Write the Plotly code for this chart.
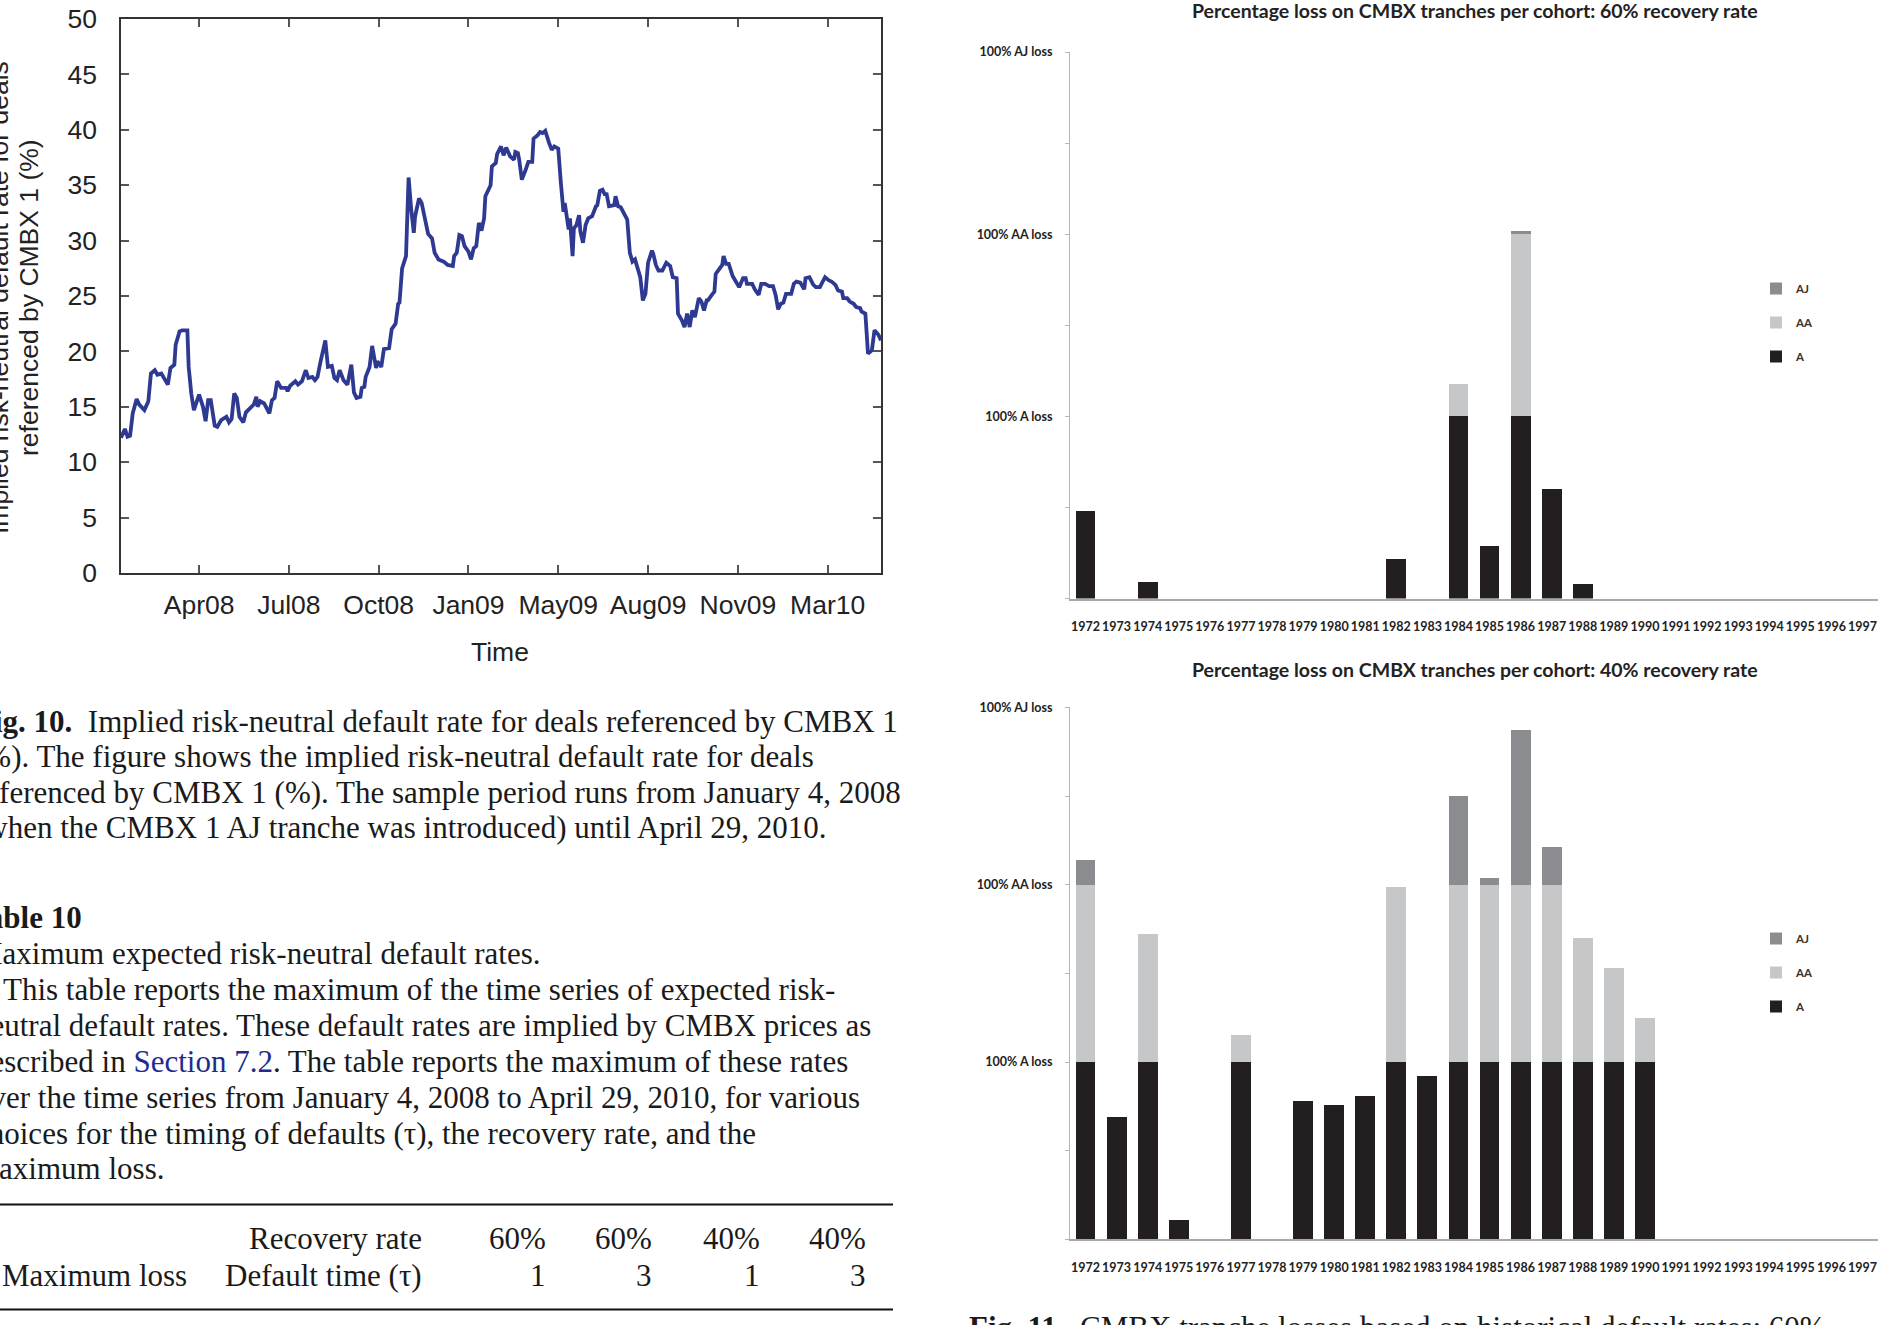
import plotly.graph_objects as go

W, H = 1896, 1325

# Fig. 10 - implied risk-neutral default rate for CMBX 1, by trading day (0 = Jan 4, 2008)
trade_day = [
    0, 3, 5, 7, 9, 12, 14, 18, 21, 23, 26, 28, 31, 36, 38, 41, 42, 45, 47, 51,
    52, 54, 56, 58, 60, 63, 65, 67, 69, 72, 74, 77, 81, 83, 85, 87, 89, 91, 94, 96,
    100, 102, 104, 105, 107, 110, 114, 116, 118, 120, 123, 127, 128, 130, 134, 136, 139, 142, 144, 147,
    149, 151, 153, 157, 159, 162, 164, 166, 168, 171, 174, 177, 179, 181, 184, 185, 187, 188, 191, 193,
    196, 197, 200, 202, 206, 208, 211, 213, 214, 216, 219, 221, 223, 225, 226, 229, 231, 234, 236, 239,
    241, 244, 248, 251, 255, 256, 258, 260, 262, 264, 267, 269, 271, 273, 275, 277, 279, 280, 283, 284,
    285, 288, 289, 292, 294, 296, 299, 302, 303, 305, 306, 308, 311, 313, 316, 317, 320, 322, 324, 326,
    329, 331, 333, 336, 338, 340, 341, 342, 344, 345, 347, 348, 350, 352, 353, 355, 357, 359, 362, 365,
    366, 368, 370, 372, 373, 375, 379, 380, 382, 384, 387, 389, 391, 393, 395, 397, 399, 401, 403, 405,
    408, 409, 411, 413, 416, 419, 422, 424, 427, 428, 431, 433, 435, 437, 439, 441, 444, 446, 448, 450,
    451, 454, 456, 457, 460, 462, 463, 465, 467, 468, 470, 472, 475, 478, 480, 481, 485, 487, 490, 492,
    495, 498, 501, 503, 505, 507, 509, 511, 515, 517, 519, 522, 525, 526, 529, 532, 534, 537, 539, 541,
    544, 546, 549, 551, 554, 555, 558, 560, 563, 565, 568, 569, 572, 573, 574, 577, 579, 582, 584,
]
default_rate = [
    12.2, 13.0, 12.3, 12.4, 14.4, 15.7, 15.2, 14.7, 15.5, 18.0, 18.3, 17.9, 18.0, 17.0, 18.5, 18.8, 20.6, 21.8, 21.9, 21.9,
    18.6, 16.2, 14.7, 15.3, 16.1, 15.0, 13.7, 15.6, 15.6, 13.3, 13.2, 13.8, 14.1, 13.6, 13.9, 16.2, 15.8, 14.1, 13.6, 14.5,
    14.9, 15.2, 15.9, 15.0, 15.5, 15.3, 14.4, 15.6, 15.8, 17.3, 16.7, 16.7, 16.4, 16.9, 17.3, 17.0, 17.3, 18.3, 17.6, 17.7,
    17.4, 17.7, 18.9, 21.0, 18.6, 18.7, 17.6, 17.4, 18.3, 17.4, 17.0, 18.8, 16.3, 15.8, 15.9, 16.7, 16.8, 17.7, 18.6, 20.5,
    18.5, 19.1, 18.6, 20.2, 20.3, 22.0, 22.5, 24.3, 24.4, 27.5, 28.6, 35.7, 32.8, 30.7, 32.2, 33.8, 33.4, 31.6, 30.6, 30.2,
    28.9, 28.3, 28.1, 27.8, 27.7, 28.6, 28.9, 30.5, 30.4, 29.5, 29.0, 28.3, 29.3, 29.5, 31.6, 30.9, 32.0, 34.0, 34.9, 35.0,
    36.7, 37.0, 37.8, 38.5, 37.7, 38.4, 37.6, 37.3, 38.0, 37.9, 37.3, 35.5, 36.4, 37.1, 37.1, 39.2, 39.5, 39.8, 39.7, 39.9,
    38.8, 38.2, 38.5, 38.3, 35.2, 32.6, 33.4, 32.5, 31.0, 32.0, 28.6, 31.1, 31.4, 32.3, 30.8, 29.8, 31.4, 32.0, 32.2, 33.1,
    33.2, 34.5, 34.6, 34.1, 34.3, 33.1, 33.2, 34.0, 33.1, 33.0, 32.3, 31.9, 28.9, 28.1, 28.3, 27.5, 26.7, 24.6, 25.2, 28.0,
    29.1, 28.8, 27.8, 27.3, 27.3, 28.0, 27.7, 26.7, 26.6, 23.4, 22.8, 22.2, 23.4, 22.2, 23.7, 23.1, 24.8, 24.5, 23.7, 24.6,
    24.6, 25.1, 25.4, 27.0, 27.5, 27.8, 28.6, 27.9, 27.9, 27.5, 26.8, 26.4, 25.8, 26.6, 26.6, 26.1, 26.1, 25.6, 25.1, 26.1,
    26.1, 25.9, 25.9, 25.1, 23.8, 24.3, 24.4, 25.2, 25.2, 26.1, 26.3, 26.2, 25.6, 26.6, 26.7, 26.0, 25.8, 25.8, 26.3, 26.7,
    26.4, 26.3, 26.0, 25.5, 25.4, 24.8, 24.8, 24.5, 24.3, 24.0, 23.9, 23.6, 23.4, 21.6, 19.8, 20.1, 21.9, 21.5, 21.0,
]
tick_days = [60, 129, 198, 267, 336, 405, 474, 543]
tick_months = ["Apr08", "Jul08", "Oct08", "Jan09", "May09", "Aug09", "Nov09", "Mar10"]

# Fig. 11 - tranche losses per cohort (1 = 100% A loss, 2 = 100% AA loss, 3 = 100% AJ loss)
cohorts = ["1972", "1973", "1974", "1975", "1976", "1977", "1978", "1979", "1980", "1981",
           "1982", "1983", "1984", "1985", "1986", "1987", "1988", "1989", "1990", "1991",
           "1992", "1993", "1994", "1995", "1996", "1997"]
loss60_A = [0.48, 0, 0.09, 0, 0, 0, 0, 0, 0, 0, 0.22, 0, 1.0, 0.29, 1.0, 0.60, 0.08, 0, 0, 0, 0, 0, 0, 0, 0, 0]
loss60_AA = [0, 0, 0, 0, 0, 0, 0, 0, 0, 0, 0, 0, 0.18, 0, 1.0, 0, 0, 0, 0, 0, 0, 0, 0, 0, 0, 0]
loss60_AJ = [0, 0, 0, 0, 0, 0, 0, 0, 0, 0, 0, 0, 0, 0, 0.02, 0, 0, 0, 0, 0, 0, 0, 0, 0, 0, 0]
loss40_A = [1.0, 0.69, 1.0, 0.11, 0, 1.0, 0, 0.78, 0.76, 0.81, 1.0, 0.92, 1.0, 1.0, 1.0, 1.0, 1.0, 1.0, 1.0, 0, 0, 0, 0, 0, 0, 0]
loss40_AA = [1.0, 0, 0.72, 0, 0, 0.15, 0, 0, 0, 0, 0.99, 0, 1.0, 1.0, 1.0, 1.0, 0.70, 0.53, 0.25, 0, 0, 0, 0, 0, 0, 0]
loss40_AJ = [0.14, 0, 0, 0, 0, 0, 0, 0, 0, 0, 0, 0, 0.50, 0.04, 0.87, 0.21, 0, 0, 0, 0, 0, 0, 0, 0, 0, 0]
loss_levels = [0, 0.5, 1, 1.5, 2, 2.5, 3]
loss_labels = ["", "", "100% A loss", "", "100% AA loss", "", "100% AJ loss"]

tranche_colors = {"A": "#231f20", "AA": "#c6c7c9", "AJ": "#8b8c90"}
legend_rank = {"AJ": 1, "AA": 2, "A": 3}

SANS = "Liberation Sans, Arial, sans-serif"
CAL = "Lato, sans-serif"
SERIF = "Liberation Serif, Times New Roman, serif"


def px_x(x):
    return x / W


def px_y(y):
    return 1 - y / H


fig = go.Figure()

fig.add_trace(go.Scatter(x=trade_day, y=default_rate, mode="lines",
                         line=dict(color="#2e3a92", width=3.8), showlegend=False,
                         xaxis="x", yaxis="y"))

panels = [
    ("x2", "y2", "legend", loss60_A, loss60_AA, loss60_AJ, "p60"),
    ("x3", "y3", "legend2", loss40_A, loss40_AA, loss40_AJ, "p40"),
]
for xa, ya, leg, a, aa, aj, key in panels:
    for name, vals in [("A", a), ("AA", aa), ("AJ", aj)]:
        fig.add_trace(go.Bar(x=cohorts, y=vals, name=name, marker_color=tranche_colors[name],
                             marker_line_width=0, xaxis=xa, yaxis=ya, legend=leg,
                             legendgroup=key + name, legendrank=legend_rank[name]))

line_axis = dict(showline=True, linecolor="#333333", linewidth=1.5, mirror="ticks",
                 ticks="inside", ticklen=8, tickcolor="#555555", tickwidth=1.5, automargin=False,
                 ticklabeloverflow="allow", showgrid=False, zeroline=False,
                 tickfont=dict(family=SANS, size=26.5, color="#222222"))

bar_x = dict(type="category", range=[-0.5, 25.5], showline=True, linecolor="#a8a8a8", linewidth=1.5,
             ticks="", showgrid=False, zeroline=False, ticklabelstandoff=16, automargin=False,
             tickfont=dict(family=CAL, size=12.5, color="#222222", weight="bold"))
bar_y = dict(range=[0, 3], tickvals=loss_levels, ticktext=loss_labels, showline=True,
             linecolor="#b5b5b5", linewidth=1, ticks="outside", ticklen=4, tickcolor="#b5b5b5",
             showgrid=False, zeroline=False, ticklabelstandoff=10, automargin=False,
             tickfont=dict(family=CAL, size=12.5, color="#222222", weight="bold"))

legend_style = dict(font=dict(family=CAL, size=11.5, color="#333333", weight="bold"),
                    traceorder="grouped", tracegroupgap=15, bgcolor="rgba(0,0,0,0)",
                    xanchor="left", yanchor="top", itemclick=False)

fig.update_layout(
    width=W, height=H, margin=dict(l=0, r=0, t=0, b=0, autoexpand=False),
    paper_bgcolor="white", plot_bgcolor="white",
    barmode="stack", bargap=0.36,
    xaxis=dict(line_axis, domain=[px_x(121), px_x(881)], anchor="y", range=[0, 584],
               tickvals=tick_days, ticktext=tick_months, ticklabelstandoff=7),
    yaxis=dict(line_axis, domain=[px_y(573), px_y(19)], anchor="x", range=[0, 50], dtick=5,
               ticklabelstandoff=17),
    xaxis2=dict(bar_x, domain=[px_x(1070), px_x(1878)], anchor="y2"),
    yaxis2=dict(bar_y, domain=[px_y(598.6), px_y(52)], anchor="x2"),
    xaxis3=dict(bar_x, domain=[px_x(1070), px_x(1878)], anchor="y3"),
    yaxis3=dict(bar_y, domain=[px_y(1239.4), px_y(707.4)], anchor="x3"),
    legend=dict(legend_style, x=px_x(1756), y=px_y(274)),
    legend2=dict(legend_style, x=px_x(1756), y=px_y(924)),
)

annotations = []


def note(text, x, y, size, family, xanchor="left", color="#1a1a1a", angle=0, weight="normal"):
    annotations.append(dict(text=text, x=px_x(x), y=px_y(y), xref="paper", yref="paper",
                            showarrow=False, xanchor=xanchor, yanchor="middle", textangle=angle,
                            font=dict(family=family, size=size, color=color, weight=weight)))


# axis titles of Fig. 10
note("Implied risk-neutral default rate for deals", -1, 298, 26.5, SANS, "center", "#222222", -90)
note("referenced by CMBX 1 (%)", 29, 298, 26.5, SANS, "center", "#222222", -90)
note("Time", 500, 652, 26.5, SANS, "center", "#222222")

# bar chart titles
note("Percentage loss on CMBX tranches per cohort: 60% recovery rate", 1475, 11, 19.5, CAL,
     "center", "#222222", weight="bold")
note("Percentage loss on CMBX tranches per cohort: 40% recovery rate", 1475, 669, 19.5, CAL,
     "center", "#222222", weight="bold")

# caption and table text (left column is cut at the page edge)
col_left = -27
text_lines = [
    ("<b>Fig. 10.</b>  Implied risk-neutral default rate for deals referenced by CMBX 1", col_left, 721),
    ("(%). The figure shows the implied risk-neutral default rate for deals", col_left, 756),
    ("referenced by CMBX 1 (%). The sample period runs from January 4, 2008", col_left, 792),
    ("(when the CMBX 1 AJ tranche was introduced) until April 29, 2010.", col_left, 827),
    ("<b>Table 10</b>", col_left - 5, 917),
    ("Maximum expected risk-neutral default rates.", col_left, 953),
    ("This table reports the maximum of the time series of expected risk-", 1, 989),
    ("neutral default rates. These default rates are implied by CMBX prices as", col_left, 1025),
    ("described in <span style='color:#1f2b8f'>Section 7.2</span>. The table reports the maximum of these rates",
     col_left, 1061),
    ("over the time series from January 4, 2008 to April 29, 2010, for various", col_left, 1097),
    ("choices for the timing of defaults (\u03c4), the recovery rate, and the", col_left, 1133),
    ("maximum loss.", col_left, 1168),
]
for txt, x, y in text_lines:
    note(txt, x, y, 31, SERIF)

note("Recovery rate", 424, 1238, 31, SERIF, "right")
note("Maximum loss", 0, 1275, 31, SERIF, "left")
note("Default time (\u03c4)", 424, 1275, 31, SERIF, "right")
for x_right, rec, tau in [(548, "60%", "1"), (654, "60%", "3"), (762, "40%", "1"), (868, "40%", "3")]:
    note(rec, x_right, 1238, 31, SERIF, "right")
    note(tau, x_right, 1275, 31, SERIF, "right")

note("<b>Fig. 11.</b>  CMBX tranche losses based on historical default rates: 60%", 967, 1327, 31, SERIF)

fig.update_layout(annotations=annotations)

# table rules
for y in [1204.5, 1309.5]:
    fig.add_shape(type="line", xref="paper", yref="paper", x0=0, x1=px_x(893),
                  y0=px_y(y), y1=px_y(y), line=dict(color="#111111", width=2.2))

# the page is the whole picture: no default body margin around the figure, no modebar
fig.write_html("out.html", config={"displayModeBar": False},
               post_script="document.body.style.margin = '0';")
